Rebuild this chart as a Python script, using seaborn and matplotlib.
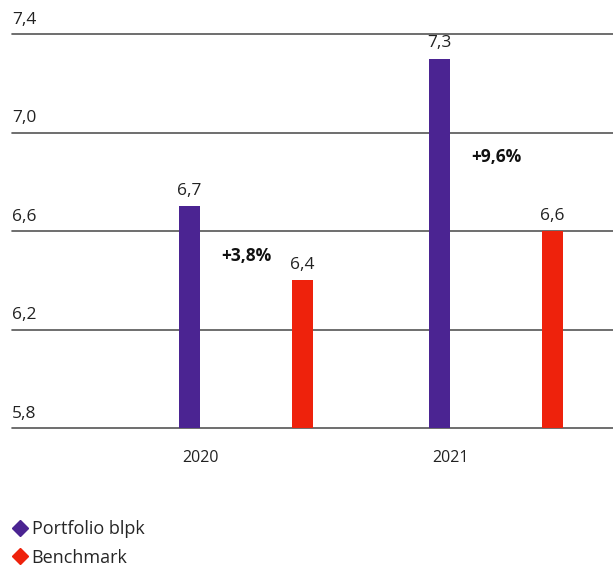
import numpy as np
import pandas as pd
import matplotlib
matplotlib.use("Agg")
import matplotlib.pyplot as plt
from matplotlib.lines import Line2D
import seaborn as sns

# data
years = ["2020", "2021"]
series = ["Portfolio blpk", "Benchmark"]
portfolio = [6.7, 7.3]
benchmark = [6.4, 6.6]
growth = ["+3,8%", "+9,6%"]
y_ticks = [5.8, 6.2, 6.6, 7.0, 7.4]

colors = {"Portfolio blpk": "#4B2492", "Benchmark": "#EE220C"}

df = pd.DataFrame({
    "year": years * 2,
    "series": [series[0]] * 2 + [series[1]] * 2,
    "value": portfolio + benchmark,
})

sns.set_theme(style="white")
plt.rcParams["font.family"] = ["Open Sans", "DejaVu Sans"]

fig = plt.figure(figsize=(6.13, 5.73), dpi=100)
ax = fig.add_axes([12 / 613, 145 / 573, 601 / 613, 394 / 573])

sns.barplot(data=df, x="year", y="value", hue="series", order=years,
            hue_order=series, palette=colors, width=0.904, dodge=True,
            saturation=1, linewidth=0, edgecolor="none",
            legend=False, ax=ax, zorder=3)

# narrow the bars to the slim look of the original
bar_w = 0.084
for p in ax.patches:
    cx = p.get_x() + p.get_width() / 2
    p.set_width(bar_w)
    p.set_x(cx - bar_w / 2)

ax.set_ylim(5.8, 7.4)
ax.set_xlim(-0.936, 1.468)

# gridlines
for t in y_ticks:
    ax.axhline(t, color="#555555", lw=1.2, zorder=1, clip_on=False)
    ax.text(-0.936, t + 0.025, f"{t:.1f}".replace(".", ","), fontsize=12.5,
            color="#222222", ha="left", va="bottom")

ax.set_yticks([])
ax.set_xticks([i - 0.184 for i in range(len(years))])
ax.set_xticklabels(years, fontsize=11.5, color="#222222")
ax.tick_params(axis="x", length=0, pad=16)
ax.set_xlabel("")
ax.set_ylabel("")
for s in ax.spines.values():
    s.set_visible(False)

# value labels above bars
for p in ax.patches:
    h = p.get_height()
    if h <= 0:
        continue
    ax.text(p.get_x() + p.get_width() / 2, h + 0.03,
            f"{h:.1f}".replace(".", ","), ha="center", va="bottom",
            fontsize=12.5, color="#222222")

# growth annotations between bars
for i, g in enumerate(growth):
    mid = (portfolio[i] + benchmark[i]) / 2 - 0.05
    ax.text(i, mid, g, ha="center", va="center", fontsize=12.5,
            fontweight="bold", color="#111111")

handles = [Line2D([0], [0], marker="D", linestyle="none", markersize=8,
                  markerfacecolor=colors[s], markeredgecolor=colors[s])
           for s in series]
fig.legend(handles, series, loc="lower left", bbox_to_anchor=(0.0, -0.008),
           frameon=False, fontsize=13, handletextpad=0.15, labelspacing=0.6,
           handlelength=1.0, borderaxespad=0.2)

fig.savefig("out.png", dpi=100)
